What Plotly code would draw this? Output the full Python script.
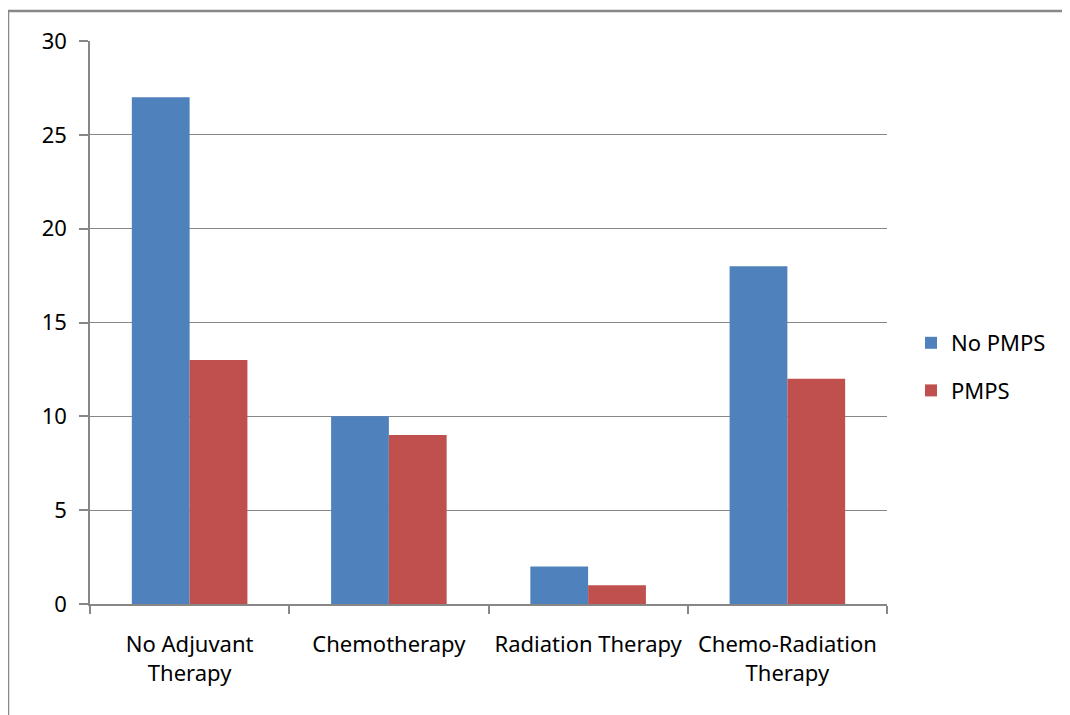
import plotly.graph_objects as go

categories = ["No Adjuvant<br>Therapy", "Chemotherapy", "Radiation Therapy", "Chemo-Radiation<br>Therapy"]
no_pmps = [27, 10, 2, 18]
pmps = [13, 9, 1, 12]
y_ticks = [0, 5, 10, 15, 20, 25, 30]

OFF = 8  # page body margin
W, H = 1070 - OFF, 715 - OFF
L, R, T, B = 90 - OFF, 887 - OFF, 41 - OFF, 604 - OFF

fig = go.Figure()
fig.add_trace(go.Bar(x=categories, y=no_pmps, name="No PMPS", marker_color="#4F81BD",
                     marker_line_width=0, legendgroup="a"))
fig.add_trace(go.Bar(x=categories, y=pmps, name="PMPS", marker_color="#C0504D",
                     marker_line_width=0, legendgroup="b"))

def px(xs):
    return (xs - OFF - L) / (R - L)

def py(ys):
    return (B - (ys - OFF)) / (B - T)

grid = "#878787"
font = "Noto Sans, Open Sans, sans-serif"
fs = 22

fig.update_layout(
    width=W, height=H,
    margin=dict(l=L, r=W - R, t=T, b=H - B, pad=0),
    paper_bgcolor="white", plot_bgcolor="white",
    barmode="group", bargap=0.42, bargroupgap=0,
    font=dict(family=font, size=fs, color="#000000"),
    xaxis=dict(type="category", showgrid=False, showline=True, linecolor=grid, linewidth=1.5,
               ticks="outside", tickson="boundaries", ticklen=8, tickcolor=grid, tickwidth=1.5,
               tickfont=dict(size=fs), ticklabelstandoff=20, tickangle=0, automargin=False,
               fixedrange=True),
    yaxis=dict(range=[0, 30], tickvals=y_ticks, showgrid=True, gridcolor=grid, gridwidth=1,
               showline=True, linecolor=grid, linewidth=1.5, ticks="outside", ticklen=9,
               tickcolor=grid, tickwidth=1.5, zeroline=False, tickfont=dict(size=22),
               ticklabelstandoff=8, automargin=False),
    legend=dict(x=px(911), y=py(367), xanchor="left", yanchor="middle",
                font=dict(size=fs), tracegroupgap=16, itemwidth=30, bgcolor="rgba(0,0,0,0)"),
    showlegend=True,
    shapes=[
        dict(type="line", xref="paper", yref="paper", x0=px(8), x1=px(1080), y0=py(11), y1=py(11),
             line=dict(color="#888888", width=2.5)),
        dict(type="line", xref="paper", yref="paper", x0=px(8), x1=px(8), y0=py(11), y1=py(730),
             line=dict(color="#888888", width=2.5)),
    ],
)

fig.write_html("out.html")
